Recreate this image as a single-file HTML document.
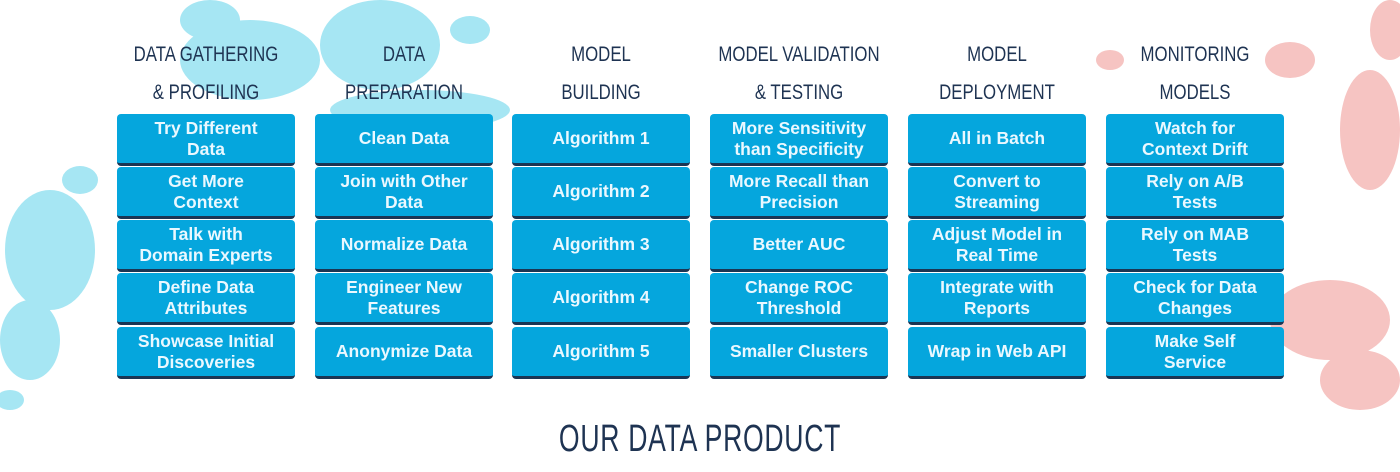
<!DOCTYPE html>
<html><head><meta charset="utf-8"><style>
body{margin:0;width:1400px;height:472px;background:#fff;position:relative;overflow:hidden;font-family:"Liberation Sans",sans-serif}
.h{position:absolute;width:240px;text-align:center;color:#1e3352;font-family:"Liberation Sans Narrow","Liberation Sans",sans-serif;font-size:21px;line-height:38px;letter-spacing:0px;transform:scaleX(0.8)}
.b{position:absolute;width:178px;height:49px;background:#05a6dd;border-radius:4px;border-bottom:3px solid #1b3553;color:#eaf8ff;font-weight:bold;font-size:17.5px;line-height:21px;display:flex;align-items:center;justify-content:center;text-align:center;box-sizing:content-box}
.t{position:absolute;left:0;width:1400px;top:418px;text-align:center;color:#1e3352;font-size:38px;letter-spacing:1px;font-family:"Liberation Sans Narrow","Liberation Sans",sans-serif;transform:scaleX(0.7)}
</style></head><body>
<svg width="1400" height="472" style="position:absolute;left:0;top:0">
<g fill="#a6e6f3">
<ellipse cx="250" cy="60" rx="70" ry="40"/>
<ellipse cx="380" cy="45" rx="60" ry="45"/>
<ellipse cx="420" cy="110" rx="90" ry="20"/>
<ellipse cx="210" cy="20" rx="30" ry="20"/>
<ellipse cx="470" cy="30" rx="20" ry="14"/>
<ellipse cx="50" cy="250" rx="45" ry="60"/>
<ellipse cx="30" cy="340" rx="30" ry="40"/>
<ellipse cx="80" cy="180" rx="18" ry="14"/>
<ellipse cx="10" cy="400" rx="14" ry="10"/>
</g>
<g fill="#f6c4c2">
<ellipse cx="1330" cy="320" rx="60" ry="40"/>
<ellipse cx="1360" cy="380" rx="40" ry="30"/>
<ellipse cx="1370" cy="130" rx="30" ry="60"/>
<ellipse cx="1290" cy="60" rx="25" ry="18"/>
<ellipse cx="1240" cy="250" rx="30" ry="12"/>
<ellipse cx="1390" cy="30" rx="20" ry="30"/>
<ellipse cx="1110" cy="60" rx="14" ry="10"/>
</g>
</svg>
<div class="h" style="left:86px;top:36px">DATA GATHERING<br>&amp; PROFILING</div>
<div class="h" style="left:284px;top:36px">DATA<br>PREPARATION</div>
<div class="h" style="left:481px;top:36px">MODEL<br>BUILDING</div>
<div class="h" style="left:679px;top:36px">MODEL VALIDATION<br>&amp; TESTING</div>
<div class="h" style="left:877px;top:36px">MODEL<br>DEPLOYMENT</div>
<div class="h" style="left:1075px;top:36px">MONITORING<br>MODELS</div>

<div class="b" style="left:117px;top:114px">Try Different<br>Data</div>
<div class="b" style="left:117px;top:167px">Get More<br>Context</div>
<div class="b" style="left:117px;top:220px">Talk with<br>Domain Experts</div>
<div class="b" style="left:117px;top:273px">Define Data<br>Attributes</div>
<div class="b" style="left:117px;top:327px">Showcase Initial<br>Discoveries</div>

<div class="b" style="left:315px;top:114px">Clean Data</div>
<div class="b" style="left:315px;top:167px">Join with Other<br>Data</div>
<div class="b" style="left:315px;top:220px">Normalize Data</div>
<div class="b" style="left:315px;top:273px">Engineer New<br>Features</div>
<div class="b" style="left:315px;top:327px">Anonymize Data</div>

<div class="b" style="left:512px;top:114px">Algorithm 1</div>
<div class="b" style="left:512px;top:167px">Algorithm 2</div>
<div class="b" style="left:512px;top:220px">Algorithm 3</div>
<div class="b" style="left:512px;top:273px">Algorithm 4</div>
<div class="b" style="left:512px;top:327px">Algorithm 5</div>

<div class="b" style="left:710px;top:114px">More Sensitivity<br>than Specificity</div>
<div class="b" style="left:710px;top:167px">More Recall than<br>Precision</div>
<div class="b" style="left:710px;top:220px">Better AUC</div>
<div class="b" style="left:710px;top:273px">Change ROC<br>Threshold</div>
<div class="b" style="left:710px;top:327px">Smaller Clusters</div>

<div class="b" style="left:908px;top:114px">All in Batch</div>
<div class="b" style="left:908px;top:167px">Convert to<br>Streaming</div>
<div class="b" style="left:908px;top:220px">Adjust Model in<br>Real Time</div>
<div class="b" style="left:908px;top:273px">Integrate with<br>Reports</div>
<div class="b" style="left:908px;top:327px">Wrap in Web API</div>

<div class="b" style="left:1106px;top:114px">Watch for<br>Context Drift</div>
<div class="b" style="left:1106px;top:167px">Rely on A/B<br>Tests</div>
<div class="b" style="left:1106px;top:220px">Rely on MAB<br>Tests</div>
<div class="b" style="left:1106px;top:273px">Check for Data<br>Changes</div>
<div class="b" style="left:1106px;top:327px">Make Self<br>Service</div>

<div class="t">OUR DATA PRODUCT</div>
</body></html>
